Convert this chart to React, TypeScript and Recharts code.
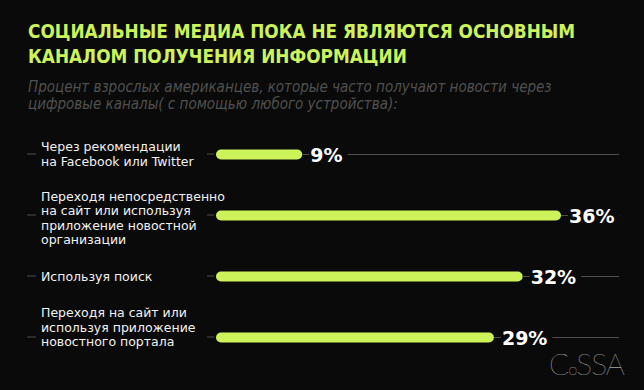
import * as React from "react"
import { Bar, BarChart, LabelList, XAxis, YAxis } from "recharts"

const categories = [
  "Через рекомендации\nна Facebook или Twitter",
  "Переходя непосредственно\nна сайт или используя\nприложение новостной\nорганизации",
  "Используя поиск",
  "Переходя на сайт или\nиспользуя приложение\nновостного портала",
]
const values = [9, 36, 32, 29]

const data = categories.map((name, i) => ({ name, value: values[i] }))

// vertical nudge of the multi-line labels vs. the bar centre
const labelShift = [0, 3, 0, -10]

const W = 644
const H = 390
const PLOT_LEFT = 216
const LINE_END = 619
const LIME = "#cdf35a"
const GRAY = "#4f4f4f"
const TEXT_FONT = "'DejaVu Sans', sans-serif"
const NUM_FONT = "'DejaVu Sans', sans-serif"

const CategoryTick = (props: any) => {
  const { y, payload, index } = props
  const lines: string[] = String(payload.value).split("\n")
  const step = 14.3
  const start = y + (labelShift[index] || 0) - ((lines.length - 1) * step) / 2
  return (
    <g>
      <line x1={27} x2={36} y1={y} y2={y} stroke={GRAY} strokeWidth={1} />
      <line x1={PLOT_LEFT - 9} x2={PLOT_LEFT - 2} y1={y} y2={y} stroke={GRAY} strokeWidth={1} />
      {lines.map((l, i) => (
        <text
          key={i}
          x={41}
          y={start + i * step + 4.5}
          fill="#f2f2f2"
          fontSize={12.5}
          fontFamily={TEXT_FONT}
        >
          {l}
        </text>
      ))}
    </g>
  )
}

const ValueLabel = (props: any) => {
  const { x, y, width, height, value } = props
  const cy = y + height / 2
  const tx = x + width + 8
  const txt = `${value}%`
  const w = (txt.length - 1) * 13.2 + 19
  return (
    <g>
      <line x1={x + width} x2={tx - 1} y1={cy} y2={cy} stroke={GRAY} strokeWidth={1} />
      <text
        x={tx}
        y={cy + 7}
        fill="#ffffff"
        fontSize={19}
        fontWeight="bold"
        fontFamily={NUM_FONT}
      >
        {txt}
      </text>
      <line x1={tx + w + 5} x2={LINE_END} y1={cy} y2={cy} stroke={GRAY} strokeWidth={1} />
    </g>
  )
}

export default function App() {
  return (
    <div
      style={{
        position: "absolute",
        left: 0,
        top: 0,
        width: W,
        height: H,
        background: "#0a0a0a",
        overflow: "hidden",
      }}
    >
      <div
        style={{
          position: "absolute",
          left: 28,
          top: 19,
          color: LIME,
          fontFamily: "'DejaVu Sans Condensed', sans-serif",
          fontWeight: "bold",
          fontSize: 18.8,
          lineHeight: "25px",
          whiteSpace: "nowrap",
        }}
      >
        СОЦИАЛЬНЫЕ МЕДИА ПОКА НЕ ЯВЛЯЮТСЯ ОСНОВНЫМ
        <br />
        КАНАЛОМ ПОЛУЧЕНИЯ ИНФОРМАЦИИ
      </div>
      <div
        style={{
          position: "absolute",
          left: 28,
          top: 79,
          color: "#505050",
          fontFamily: "'DejaVu Sans Condensed', sans-serif",
          fontStyle: "italic",
          fontSize: 15,
          lineHeight: "17px",
          whiteSpace: "nowrap",
        }}
      >
        Процент взрослых американцев, которые часто получают новости через
        <br />
        цифровые каналы( с помощью любого устройства):
      </div>
      <div style={{ position: "absolute", left: 0, top: 0 }}>
        <BarChart
          width={W}
          height={H}
          data={data}
          layout="vertical"
          margin={{ top: 123.5, bottom: 22.5, left: 16, right: 83 }}
        >
          <XAxis type="number" domain={[0, 36]} hide />
          <YAxis
            type="category"
            dataKey="name"
            width={200}
            axisLine={false}
            tickLine={false}
            tick={<CategoryTick />}
            interval={0}
          />
          <Bar dataKey="value" fill={LIME} barSize={10} radius={5} isAnimationActive={false}>
            <LabelList dataKey="value" content={<ValueLabel />} />
          </Bar>
        </BarChart>
      </div>
      <div
        style={{
          position: "absolute",
          left: 549,
          top: 348,
          color: "#e6e6e6",
          fontFamily: "Lato, 'Liberation Sans', sans-serif",
          fontWeight: 200,
          fontSize: 30,
          lineHeight: "30px",
          letterSpacing: -1,
        }}
      >
        C<span style={{ fontSize: 16 }}>o</span>SSA
      </div>
    </div>
  )
}
